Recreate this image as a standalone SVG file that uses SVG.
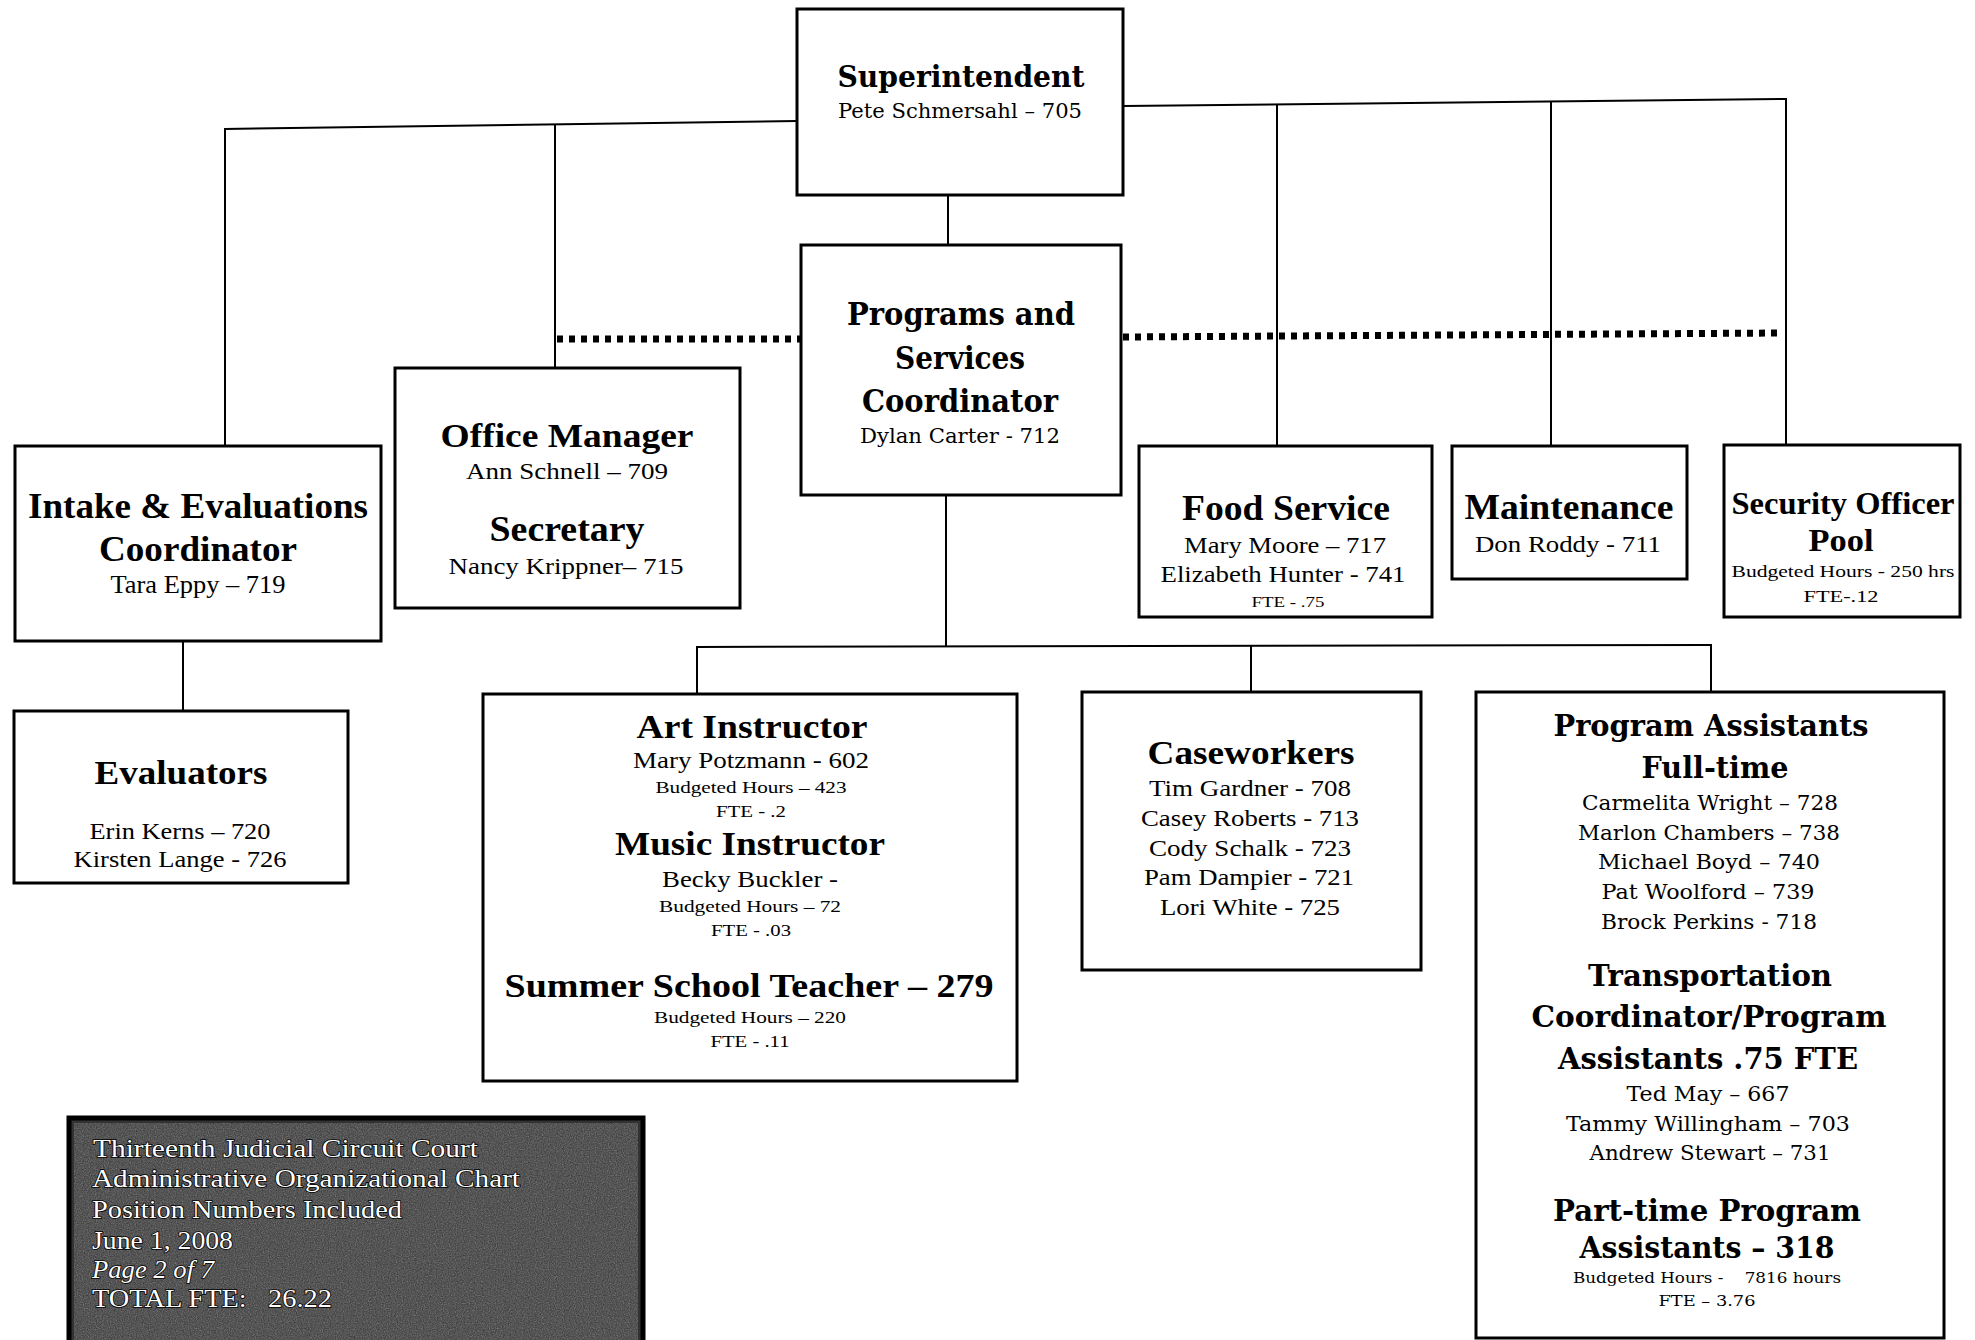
<svg xmlns="http://www.w3.org/2000/svg" width="1975" height="1340" viewBox="0 0 1975 1340">
<style>
.box{fill:#fff;stroke:#000;stroke-width:3}
.ln{stroke:#000;stroke-width:2;fill:none}
.dot{stroke:#000;stroke-width:7;stroke-dasharray:6 6;fill:none}
text{font-family:"Liberation Serif","Times New Roman",serif;text-anchor:middle;fill:#000}
.b{font-weight:bold}
.c{font-family:"DejaVu Serif","Liberation Serif",serif}
.lbl{text-anchor:start;fill:#ffffff;stroke:#000;stroke-width:1.6;paint-order:stroke}
</style>
<defs>
<filter id="grain" x="0" y="0" width="100%" height="100%">
<feTurbulence type="fractalNoise" baseFrequency="0.85" numOctaves="2" seed="7"/>
<feColorMatrix type="saturate" values="0"/>
</filter>
</defs>
<rect width="1975" height="1340" fill="#fff"/>

<g id="connectors">
<line class="ln" x1="797" y1="121" x2="224" y2="129"/>
<line class="ln" x1="225" y1="129" x2="225" y2="446"/>
<line class="ln" x1="555" y1="125" x2="555" y2="368"/>
<line class="ln" x1="1124" y1="106" x2="1787" y2="99"/>
<line class="ln" x1="1277" y1="104" x2="1277" y2="446"/>
<line class="ln" x1="1551" y1="101" x2="1551" y2="446"/>
<line class="ln" x1="1786" y1="99" x2="1786" y2="445"/>
<line class="ln" x1="948" y1="195" x2="948" y2="245"/>
<path class="dot" d="M557 339 L800 339"/>
<path class="dot" d="M1123 337 L1781 333"/>
<line class="ln" x1="946" y1="495" x2="946" y2="647"/>
<line class="ln" x1="696" y1="647" x2="1712" y2="645"/>
<line class="ln" x1="697" y1="647" x2="697" y2="694"/>
<line class="ln" x1="1251" y1="646" x2="1251" y2="692"/>
<line class="ln" x1="1711" y1="645" x2="1711" y2="692"/>
<line class="ln" x1="183" y1="641" x2="183" y2="711"/>
</g>

<g id="superintendent">
<rect class="box" x="797" y="9" width="326" height="186"/>
<text class="c b" x="961" y="87" font-size="30" textLength="247" lengthAdjust="spacingAndGlyphs">Superintendent</text>
<text class="c" x="960" y="118" font-size="20" textLength="244" lengthAdjust="spacingAndGlyphs">Pete Schmersahl – 705</text>
</g>

<g id="programs">
<rect class="box" x="801" y="245" width="320" height="250"/>
<text class="c b" x="961" y="325" font-size="31" textLength="228" lengthAdjust="spacingAndGlyphs">Programs and</text>
<text class="c b" x="960" y="369" font-size="31" textLength="130" lengthAdjust="spacingAndGlyphs">Services</text>
<text class="c b" x="960" y="412" font-size="31" textLength="196" lengthAdjust="spacingAndGlyphs">Coordinator</text>
<text class="c" x="960" y="443" font-size="20" textLength="200" lengthAdjust="spacingAndGlyphs">Dylan Carter - 712</text>
</g>

<g id="office-manager">
<rect class="box" x="395" y="368" width="345" height="240"/>
<text class="b" x="567" y="447" font-size="34" textLength="253" lengthAdjust="spacingAndGlyphs">Office Manager</text>
<text x="567" y="479" font-size="24" textLength="202" lengthAdjust="spacingAndGlyphs">Ann Schnell – 709</text>
<text class="b" x="567" y="541" font-size="35" textLength="155" lengthAdjust="spacingAndGlyphs">Secretary</text>
<text x="566" y="574" font-size="24" textLength="235" lengthAdjust="spacingAndGlyphs">Nancy Krippner– 715</text>
</g>

<g id="intake">
<rect class="box" x="15" y="446" width="366" height="195"/>
<text class="b" x="198" y="518" font-size="36" textLength="340" lengthAdjust="spacingAndGlyphs">Intake &amp; Evaluations</text>
<text class="b" x="198" y="561" font-size="36" textLength="198" lengthAdjust="spacingAndGlyphs">Coordinator</text>
<text x="198" y="593" font-size="25" textLength="175" lengthAdjust="spacingAndGlyphs">Tara Eppy – 719</text>
</g>

<g id="evaluators">
<rect class="box" x="14" y="711" width="334" height="172"/>
<text class="b" x="181" y="784" font-size="34" textLength="173" lengthAdjust="spacingAndGlyphs">Evaluators</text>
<text x="180" y="839" font-size="24" textLength="181" lengthAdjust="spacingAndGlyphs">Erin Kerns – 720</text>
<text x="180" y="867" font-size="24" textLength="213" lengthAdjust="spacingAndGlyphs">Kirsten Lange - 726</text>
</g>

<g id="food-service">
<rect class="box" x="1139" y="446" width="293" height="171"/>
<text class="b" x="1286" y="520" font-size="35" textLength="208" lengthAdjust="spacingAndGlyphs">Food Service</text>
<text x="1285" y="553" font-size="24" textLength="202" lengthAdjust="spacingAndGlyphs">Mary Moore – 717</text>
<text x="1283" y="582" font-size="23" textLength="245" lengthAdjust="spacingAndGlyphs">Elizabeth Hunter - 741</text>
<text x="1288" y="607" font-size="15" textLength="73" lengthAdjust="spacingAndGlyphs">FTE - .75</text>
</g>

<g id="maintenance">
<rect class="box" x="1452" y="446" width="235" height="133"/>
<text class="b" x="1569" y="519" font-size="35" textLength="209" lengthAdjust="spacingAndGlyphs">Maintenance</text>
<text x="1568" y="552" font-size="23" textLength="186" lengthAdjust="spacingAndGlyphs">Don Roddy - 711</text>
</g>

<g id="security">
<rect class="box" x="1724" y="445" width="236" height="172"/>
<text class="b" x="1843" y="514" font-size="32" textLength="223" lengthAdjust="spacingAndGlyphs">Security Officer</text>
<text class="b" x="1841" y="551" font-size="32" textLength="65" lengthAdjust="spacingAndGlyphs">Pool</text>
<text x="1843" y="577" font-size="16" textLength="223" lengthAdjust="spacingAndGlyphs">Budgeted Hours - 250 hrs</text>
<text x="1841" y="602" font-size="16" textLength="75" lengthAdjust="spacingAndGlyphs">FTE-.12</text>
</g>

<g id="instructors">
<rect class="box" x="483" y="694" width="534" height="387"/>
<text class="b" x="752" y="738" font-size="33" textLength="231" lengthAdjust="spacingAndGlyphs">Art Instructor</text>
<text x="751" y="768" font-size="23" textLength="236" lengthAdjust="spacingAndGlyphs">Mary Potzmann - 602</text>
<text x="751" y="793" font-size="16" textLength="191" lengthAdjust="spacingAndGlyphs">Budgeted Hours – 423</text>
<text x="751" y="817" font-size="16" textLength="70" lengthAdjust="spacingAndGlyphs">FTE - .2</text>
<text class="b" x="750" y="855" font-size="33" textLength="270" lengthAdjust="spacingAndGlyphs">Music Instructor</text>
<text x="750" y="887" font-size="23" textLength="176" lengthAdjust="spacingAndGlyphs">Becky Buckler -</text>
<text x="750" y="912" font-size="16" textLength="182" lengthAdjust="spacingAndGlyphs">Budgeted Hours – 72</text>
<text x="751" y="936" font-size="16" textLength="80" lengthAdjust="spacingAndGlyphs">FTE - .03</text>
<text class="b" x="749" y="997" font-size="34" textLength="489" lengthAdjust="spacingAndGlyphs">Summer School Teacher – 279</text>
<text x="750" y="1023" font-size="16" textLength="192" lengthAdjust="spacingAndGlyphs">Budgeted Hours – 220</text>
<text x="750" y="1047" font-size="16" textLength="79" lengthAdjust="spacingAndGlyphs">FTE - .11</text>
</g>

<g id="caseworkers">
<rect class="box" x="1082" y="692" width="339" height="278"/>
<text class="b" x="1251" y="764" font-size="33" textLength="207" lengthAdjust="spacingAndGlyphs">Caseworkers</text>
<text x="1250" y="796" font-size="23" textLength="202" lengthAdjust="spacingAndGlyphs">Tim Gardner - 708</text>
<text x="1250" y="826" font-size="23" textLength="218" lengthAdjust="spacingAndGlyphs">Casey Roberts - 713</text>
<text x="1250" y="856" font-size="23" textLength="202" lengthAdjust="spacingAndGlyphs">Cody Schalk - 723</text>
<text x="1249" y="885" font-size="23" textLength="210" lengthAdjust="spacingAndGlyphs">Pam Dampier - 721</text>
<text x="1250" y="915" font-size="23" textLength="180" lengthAdjust="spacingAndGlyphs">Lori White - 725</text>
</g>

<g id="program-assistants">
<rect class="box" x="1476" y="692" width="468" height="646"/>
<text class="c b" x="1711" y="736" font-size="29" textLength="315" lengthAdjust="spacingAndGlyphs">Program Assistants</text>
<text class="c b" x="1715" y="778" font-size="29" textLength="147" lengthAdjust="spacingAndGlyphs">Full-time</text>
<text class="c" x="1710" y="810" font-size="21" textLength="256" lengthAdjust="spacingAndGlyphs">Carmelita Wright – 728</text>
<text class="c" x="1709" y="840" font-size="21" textLength="262" lengthAdjust="spacingAndGlyphs">Marlon Chambers – 738</text>
<text class="c" x="1709" y="869" font-size="21" textLength="222" lengthAdjust="spacingAndGlyphs">Michael Boyd – 740</text>
<text class="c" x="1708" y="899" font-size="21" textLength="213" lengthAdjust="spacingAndGlyphs">Pat Woolford – 739</text>
<text class="c" x="1709" y="929" font-size="21" textLength="216" lengthAdjust="spacingAndGlyphs">Brock Perkins - 718</text>
<text class="c b" x="1710" y="986" font-size="29" textLength="244" lengthAdjust="spacingAndGlyphs">Transportation</text>
<text class="c b" x="1709" y="1027" font-size="29" textLength="355" lengthAdjust="spacingAndGlyphs">Coordinator/Program</text>
<text class="c b" x="1708" y="1069" font-size="29" textLength="300" lengthAdjust="spacingAndGlyphs">Assistants .75 FTE</text>
<text class="c" x="1708" y="1101" font-size="21" textLength="163" lengthAdjust="spacingAndGlyphs">Ted May – 667</text>
<text class="c" x="1708" y="1131" font-size="21" textLength="284" lengthAdjust="spacingAndGlyphs">Tammy Willingham – 703</text>
<text class="c" x="1710" y="1160" font-size="21" textLength="241" lengthAdjust="spacingAndGlyphs">Andrew Stewart – 731</text>
<text class="c b" x="1707" y="1221" font-size="29" textLength="308" lengthAdjust="spacingAndGlyphs">Part-time Program</text>
<text class="c b" x="1707" y="1258" font-size="29" textLength="255" lengthAdjust="spacingAndGlyphs">Assistants – 318</text>
<text class="c" x="1707" y="1283" font-size="15" textLength="268" lengthAdjust="spacingAndGlyphs" xml:space="preserve">Budgeted Hours -    7816 hours</text>
<text class="c" x="1707" y="1306" font-size="15" textLength="97" lengthAdjust="spacingAndGlyphs">FTE – 3.76</text>
</g>

<g id="title-block">
<rect x="69" y="1118" width="574" height="230" fill="#333" stroke="#000" stroke-width="5"/>
<rect x="74" y="1123" width="564" height="225" filter="url(#grain)" opacity="0.5"/>
<text class="lbl" x="93" y="1157" font-size="26" textLength="385" lengthAdjust="spacingAndGlyphs">Thirteenth Judicial Circuit Court</text>
<text class="lbl" x="92" y="1187" font-size="26" textLength="428" lengthAdjust="spacingAndGlyphs">Administrative Organizational Chart</text>
<text class="lbl" x="92" y="1218" font-size="26" textLength="310" lengthAdjust="spacingAndGlyphs">Position Numbers Included</text>
<text class="lbl" x="92" y="1249" font-size="26" textLength="141" lengthAdjust="spacingAndGlyphs">June 1, 2008</text>
<text class="lbl" x="92" y="1278" font-size="26" font-style="italic" textLength="122" lengthAdjust="spacingAndGlyphs">Page 2 of 7</text>
<text class="lbl" x="92" y="1307" font-size="26" textLength="240" lengthAdjust="spacingAndGlyphs" xml:space="preserve">TOTAL FTE:   26.22</text>
</g>
</svg>
